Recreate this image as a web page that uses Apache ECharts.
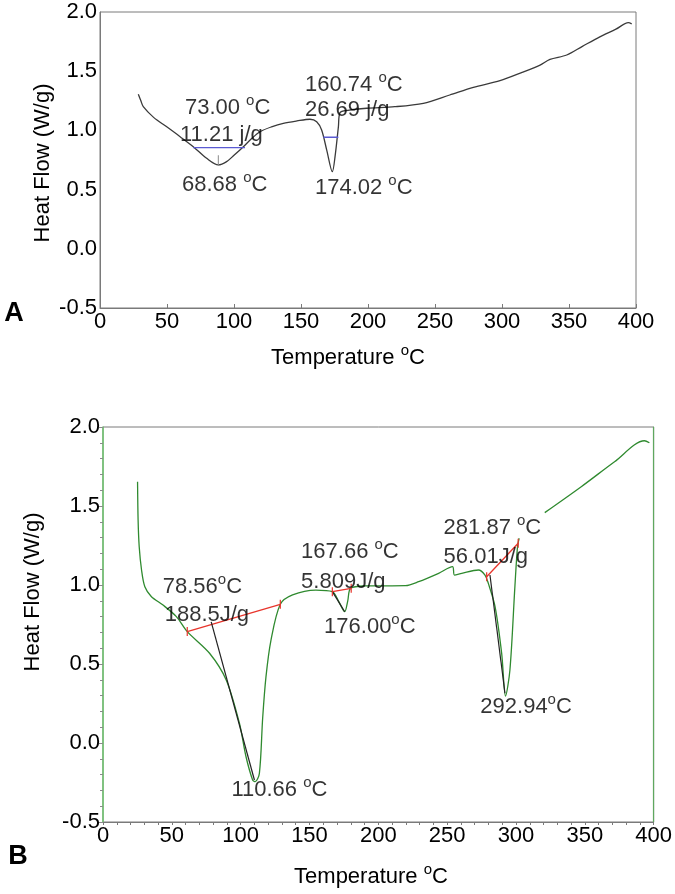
<!DOCTYPE html>
<html><head><meta charset="utf-8">
<script src="https://cdn.jsdelivr.net/npm/echarts@6/dist/echarts.min.js"></script>
<style>html,body{margin:0;padding:0;background:#fff}#c{width:675px;height:894px}</style>
</head><body><div id="c"></div>
<script>
// ---------- Panel A data ----------
const aTemp = [28.6, 30.5, 32.3, 40, 49.8, 60, 69.6, 79.6, 88.3, 94.5, 100, 107, 113, 119.4, 128, 136.8, 147, 156.7, 161.7, 165.4, 169.2, 173.4, 175.4, 177.9, 179.1, 185, 199, 220, 241.3, 261, 278.6, 298.5, 315, 328.4, 335.8, 348.3, 360, 373, 385, 394.3, 396.8];
const aFlow = [1.305, 1.25, 1.20, 1.11, 1.03, 0.945, 0.862, 0.764, 0.708, 0.736, 0.79, 0.862, 0.93, 0.989, 1.03, 1.06, 1.08, 1.094, 1.073, 1.003, 0.834, 0.651, 0.778, 1.03, 1.15, 1.17, 1.187, 1.20, 1.229, 1.299, 1.364, 1.42, 1.49, 1.552, 1.60, 1.637, 1.71, 1.79, 1.855, 1.91, 1.90];
const aBase1 = [[69.6, 0.854], [108.2, 0.854]];
const aBase2 = [[166.7, 0.942], [177.9, 0.942]];
const aPeakMark = [[88.3, 0.70], [88.3, 0.79]];
const aNotes = [
  [63.4, 1.189, '73.00 °C'],
  [59.7, 0.961, '11.21 j/g'],
  [61.2, 0.539, '68.68 °C'],
  [153, 1.383, '160.74 °C'],
  [153, 1.172, '26.69 j/g'],
  [160.4, 0.514, '174.02 °C']
];
// ---------- Panel B data ----------
const bTemp = [25.1, 25.5, 26.3, 28, 30.4, 35.2, 43.6, 53.3, 61.2, 77.4, 89.5, 99.1, 103.9, 108.7, 110.6, 113.6, 116, 118.4, 122, 128.8, 137.7, 154.6, 166.6, 171, 175.6, 177.8, 179.9, 190.7, 219.7, 229.3, 243.8, 253.9, 255.3, 260.6, 272.7, 277.5, 279.9, 284.8, 289.6, 292.4, 295.6, 299.2, 301.1, 302.3, 311, 320.9, 347.4, 371.6, 393.3, 396.9];
const bFlow = [1.654, 1.411, 1.242, 1.095, 0.989, 0.926, 0.873, 0.80, 0.705, 0.568, 0.399, 0.125, -0.087, -0.234, -0.245, -0.192, 0.16, 0.42, 0.65, 0.878, 0.937, 0.968, 0.958, 0.90, 0.831, 0.90, 0.979, 0.994, 0.996, 1.021, 1.074, 1.116, 1.063, 1.074, 1.095, 1.063, 1.01, 0.863, 0.567, 0.297, 0.462, 0.989, 1.242, 1.296, null, 1.458, 1.622, 1.78, 1.913, 1.90];
const bBaselines = [
  [[61.2, 0.705], [128.8, 0.878]],
  [[166.6, 0.958], [180.3, 0.979]],
  [[278.7, 1.052], [301.6, 1.264]]
];
const bTangents = [
  [[78.6, 0.767], [110.0, -0.234]],
  [[166.6, 0.958], [175.6, 0.831]],
  [[281.1, 1.063], [292.0, 0.315]]
];
const bNotes = [
  [43.4, 0.989, '78.56°C'],
  [44.8, 0.810, '188.5J/g'],
  [93.3, -0.297, '110.66 °C'],
  [143.9, 1.211, '167.66 °C'],
  [143.9, 1.021, '5.809J/g'],
  [160.6, 0.736, '176.00°C'],
  [247.4, 1.359, '281.87 °C'],
  [247.4, 1.179, '56.01J/g'],
  [274.1, 0.230, '292.94°C']
];
const yTitle = 'Heat Flow (W/g)';
const xTitle = 'Temperature °C';

const FONT = 'Liberation Sans, Arial, sans-serif';
const TXT = '#000000';
const rich = {
  n: {fontSize: 22, fontFamily: FONT, color: TXT},
  s: {fontSize: 15, fontFamily: FONT, color: TXT, padding: [0, 0, 14, 0]}
};
function toRich(t) { return t.split('°').map(p => '{n|' + p + '}').join('{s|o}'); }

const chart = echarts.init(document.getElementById('c'), null, {renderer: 'canvas'});

function xAxisCfg(grid, ticksOut) {
  return {
    type: 'value', gridIndex: grid, min: 0, max: 400, interval: 50,
    axisLine: {show: true, onZero: false, lineStyle: {color: '#7a7a7a', width: 1}},
    axisTick: {show: true, inside: !ticksOut, length: ticksOut ? 3 : 4, lineStyle: {color: '#7a7a7a'}},
    minorTick: {show: ticksOut, splitNumber: 5, length: 3, lineStyle: {color: '#7a7a7a'}},
    axisLabel: {fontSize: 22, fontFamily: FONT, color: TXT, margin: 3},
    splitLine: {show: false}
  };
}
function yAxisCfg(grid, green) {
  return {
    type: 'value', gridIndex: grid, min: -0.5, max: 2, interval: 0.5,
    axisLine: {show: true, onZero: false, lineStyle: {color: green ? '#6cc46c' : '#7a7a7a', width: green ? 1.5 : 1}},
    axisTick: {show: green, length: 4, lineStyle: {color: '#8a8a8a'}},
    minorTick: {show: green, splitNumber: 5, length: 3, lineStyle: {color: '#8a8a8a'}},
    axisLabel: {fontSize: 22, fontFamily: FONT, color: TXT, margin: 3, formatter: v => v.toFixed(1)},
    splitLine: {show: false}
  };
}
function notesSeries(xi, yi, notes) {
  return {
    type: 'scatter', xAxisIndex: xi, yAxisIndex: yi, symbolSize: 0, silent: true, z: 10,
    itemStyle: {color: 'transparent'},
    data: notes.map(n => ({value: [n[0], n[1]], name: n[2]})),
    label: {show: true, position: [0, 0], align: 'left', verticalAlign: 'middle',
      formatter: p => toRich(p.name), rich: rich}
  };
}
function seg(xi, yi, data, color, width, sym) {
  return {
    type: 'line', xAxisIndex: xi, yAxisIndex: yi, data: data, silent: true,
    symbol: sym ? 'rect' : 'none', symbolSize: [1.2, 9], showSymbol: !!sym,
    itemStyle: {color: color},
    lineStyle: {color: color, width: width}, z: 4
  };
}

const series = [
  {type: 'line', xAxisIndex: 0, yAxisIndex: 0, data: aTemp.map((t, i) => [t, aFlow[i]]), smooth: 0.3,
   symbol: 'none', lineStyle: {color: '#3a3a3a', width: 1.3}, silent: true, z: 3},
  seg(0, 0, aBase1, '#5a5ad2', 1.3),
  seg(0, 0, aBase2, '#5a5ad2', 1.3),
  seg(0, 0, aPeakMark, '#8a8a8a', 1),
  notesSeries(0, 0, aNotes),
  {type: 'line', xAxisIndex: 1, yAxisIndex: 1, data: bTemp.map((t, i) => [t, bFlow[i] === null ? '-' : bFlow[i]]), smooth: 0.3,
   symbol: 'none', connectNulls: false, lineStyle: {color: '#2f8a2f', width: 1.3}, silent: true, z: 3}
];
bBaselines.forEach(b => series.push(seg(1, 1, b, '#e8352c', 1.3, true)));
bTangents.forEach(b => series.push(seg(1, 1, b, '#222222', 1.2)));
series.push(notesSeries(1, 1, bNotes));

const rightAxisB = yAxisCfg(1, true);
Object.assign(rightAxisB, {position: 'right', axisTick: {show: false}, minorTick: {show: false}, axisLabel: {show: false},
  axisLine: {show: true, onZero: false, lineStyle: {color: '#5fa85f', width: 1.2}}});

chart.setOption({
  animation: false,
  backgroundColor: '#ffffff',
  grid: [
    {left: 100, top: 12, width: 536, height: 296, show: true, borderColor: '#7a7a7a', borderWidth: 1},
    {left: 103, top: 427, width: 553, height: 395, show: true, borderColor: '#7a7a7a', borderWidth: 1}
  ],
  xAxis: [xAxisCfg(0, false), xAxisCfg(1, true)],
  yAxis: [yAxisCfg(0, false), yAxisCfg(1, true), rightAxisB],
  series: series,
  graphic: [
    {type: 'text', x: 43, y: 163, rotation: Math.PI / 2, style: {text: yTitle, font: '22px ' + FONT, fill: TXT, align: 'center', verticalAlign: 'middle'}},
    {type: 'text', x: 33, y: 592, rotation: Math.PI / 2, style: {text: yTitle, font: '22px ' + FONT, fill: TXT, align: 'center', verticalAlign: 'middle'}},
    {type: 'text', x: 348, y: 358, style: {text: toRich(xTitle), rich: rich, align: 'center', verticalAlign: 'middle'}},
    {type: 'text', x: 371, y: 877, style: {text: toRich(xTitle), rich: rich, align: 'center', verticalAlign: 'middle'}},
    {type: 'text', x: 14, y: 314, style: {text: 'A', font: 'bold 27px ' + FONT, fill: '#000', align: 'center', verticalAlign: 'middle'}},
    {type: 'text', x: 18, y: 857, style: {text: 'B', font: 'bold 27px ' + FONT, fill: '#000', align: 'center', verticalAlign: 'middle'}}
  ]
});
</script></body></html>
